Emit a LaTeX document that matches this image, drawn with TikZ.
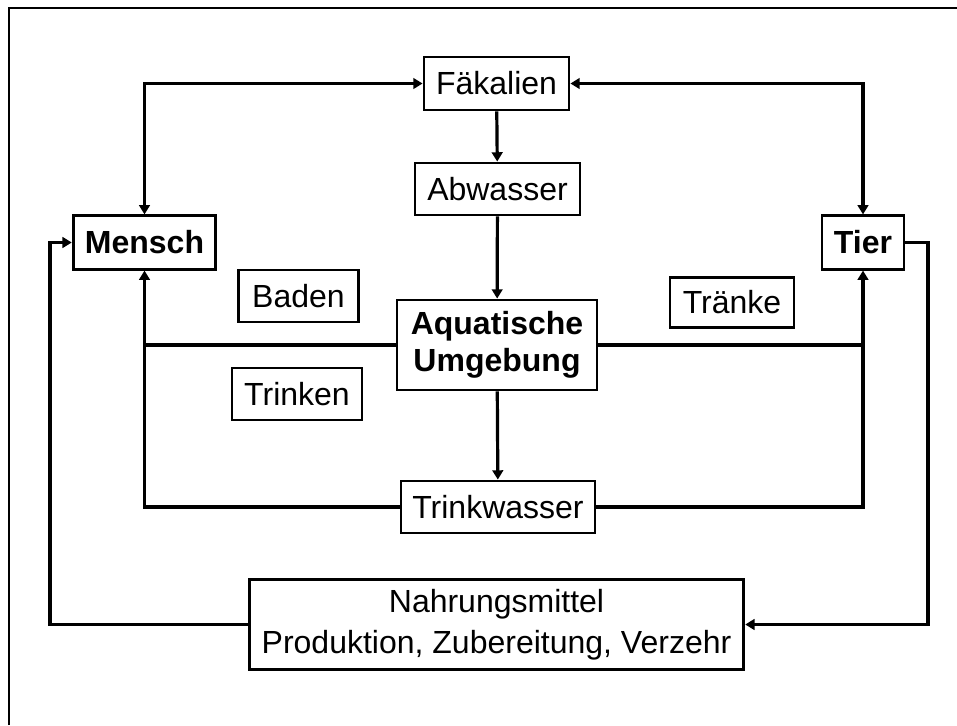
\documentclass[tikz,border=0pt]{standalone}
\usepackage{fontspec}
\setmainfont{Liberation Sans}
\usetikzlibrary{arrows.meta,positioning}
\tikzset{
	box/.style={draw, line width=2.1pt, inner sep=0pt, align=center,
			font=\fontsize{24}{28.5}\selectfont},
	flow/.style={line width=2.4pt, line join=miter,
			>={Triangle[length=7pt,width=8pt]}}
}

\begin{document}
\begin{tikzpicture}[x=0.75pt, y=-0.75pt]
		\useasboundingbox (0,0) rectangle (957,725);
		\draw [line width=1.6pt] (9,725) -- (9,8) -- (957,8);

		\node [box, minimum width=108.75pt, minimum height=39.75pt] (faek) at (496.5,83.5) {Fäkalien};
		\node [box, minimum width=123.75pt, minimum height=39pt] (abw) at (497.5,189) {Abwasser};
		\node [box, minimum width=107pt, minimum height=40pt, font=\fontsize{24}{28.5}\bfseries] (mensch) at (144.5,242.5) {Mensch};
		\node [box, minimum width=61.5pt, minimum height=40pt, font=\fontsize{24}{28.5}\bfseries] (tier) at (863,242.5) {Tier};
		\node [box, minimum width=90pt, minimum height=39pt] (baden) at (298.5,296) {Baden};
		\node [box, minimum width=93pt, minimum height=38pt] (traenke) at (732,302.5) {Tränke};
		\node [box, minimum width=150pt, minimum height=67.5pt, font=\fontsize{24}{28}\bfseries] (aqua) at (497,345) {Aquatische\\Umgebung};
		\node [box, minimum width=97.5pt, minimum height=39pt] (trinken) at (297,394) {Trinken};
		\node [box, minimum width=145.5pt, minimum height=39pt] (trinkw) at (498,507) {Trinkwasser};
		\node [box, minimum width=371pt, minimum height=67pt, font=\fontsize{24}{31}\selectfont] (nahr) at (496.5,624.5) {Nahrungsmittel\\Produktion, Zubereitung, Verzehr};

		\coordinate (re) at (928,242.5);
		\coordinate (le) at (50,624.5);

		\draw [flow, <->] (mensch.north) |- (faek.west);
		\draw [flow, <->] (tier.north) |- (faek.east);
		\draw [flow, ->] (faek) -- (abw);
		\draw [flow, ->] (abw) -- (aqua);
		\draw [flow, ->] (aqua) -- (trinkw);
		\draw [flow, ->] (aqua.west) -| (mensch.south);
		\draw [flow, ->] (aqua.east) -| (tier.south);
		\draw [flow] (trinkw.west) -| (mensch |- aqua);
		\draw [flow] (trinkw.east) -| (tier |- aqua);
		\draw [flow, ->] (tier.east) -- (re) |- (nahr.east);
		\draw [flow, ->] (nahr.west) -- (le) |- (mensch.west);
	\end{tikzpicture}
\end{document}
